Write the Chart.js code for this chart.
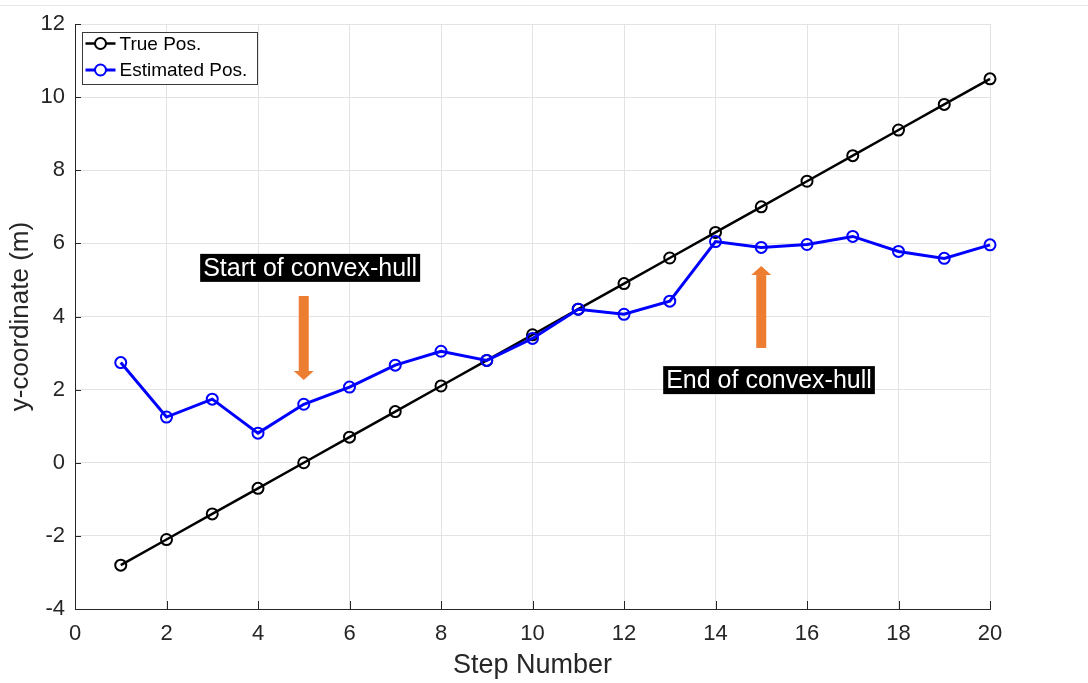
<!DOCTYPE html>
<html>
<head>
<meta charset="utf-8">
<script src="https://cdn.jsdelivr.net/npm/chart.js@4.4.1/dist/chart.umd.min.js"></script>
<style>
    html, body { margin: 0; padding: 0; background: #ffffff; }
    #wrap { width: 1088px; height: 683px; position: relative; }
</style>
</head>
<body>
<div id="wrap"><canvas id="trajetoria"></canvas></div>
<script>
const passos = [1, 2, 3, 4, 5, 6, 7, 8, 9, 10, 11, 12, 13, 14, 15, 16, 17, 18, 19, 20];
const posReal = [-2.8, -2.1, -1.4, -0.7, 0, 0.7, 1.4, 2.1, 2.8, 3.5, 4.2, 4.9, 5.6, 6.3, 7.0, 7.7, 8.4, 9.1, 9.8, 10.5];
const posEstimada = [2.74, 1.25, 1.74, 0.81, 1.60, 2.07, 2.67, 3.05, 2.80, 3.40, 4.20, 4.06, 4.42, 6.05, 5.89, 5.97, 6.19, 5.78, 5.59, 5.96];
const ticksX = [0, 2, 4, 6, 8, 10, 12, 14, 16, 18, 20];
const ticksY = [-4, -2, 0, 2, 4, 6, 8, 10, 12];

const FONTE = "'Liberation Sans', Arial, Helvetica, sans-serif";
const COR_EIXO = "#262626";
const LARANJA = "#ed7d31";

// caixas de texto e setas, em coordenadas dos dados
const anotacoes = [
    { texto: "Start of convex-hull", tx: 5.14, ty: 5.33, sx: 5, de: 4.56, ate: 2.26 },
    { texto: "End of convex-hull", tx: 15.17, ty: 2.26, sx: 15, de: 3.14, ate: 5.38 }
];

// linha cinza fina no topo da janela
const fundoPlugin = {
    id: "fundo",
    beforeDraw(chart) {
        const { ctx, width } = chart;
        ctx.save();
        ctx.strokeStyle = "#e6e6e6";
        ctx.lineWidth = 1;
        ctx.beginPath();
        ctx.moveTo(0, 5.5);
        ctx.lineTo(width, 5.5);
        ctx.stroke();
        ctx.restore();
    }
};

// marcas de escala para dentro, estilo MATLAB
const ticksInternosPlugin = {
    id: "ticksInternos",
    beforeDatasetsDraw(chart) {
        const { ctx, chartArea, scales } = chart;
        ctx.save();
        ctx.strokeStyle = COR_EIXO;
        ctx.lineWidth = 1;
        ctx.beginPath();
        scales.x.ticks.forEach(t => {
            const px = Math.round(scales.x.getPixelForValue(t.value)) + 0.5;
            ctx.moveTo(px, chartArea.bottom);
            ctx.lineTo(px, chartArea.bottom - 8);
        });
        scales.y.ticks.forEach(t => {
            const py = Math.round(scales.y.getPixelForValue(t.value)) + 0.5;
            ctx.moveTo(chartArea.left, py);
            ctx.lineTo(chartArea.left + 6, py);
        });
        ctx.stroke();
        ctx.restore();
    }
};

const anotacoesPlugin = {
    id: "anotacoes",
    afterDatasetsDraw(chart) {
        const { ctx, scales } = chart;
        const x = scales.x, y = scales.y;

        ctx.save();
        anotacoes.forEach(a => {
            // seta
            const px = x.getPixelForValue(a.sx);
            const y0 = y.getPixelForValue(a.de);
            const y1 = y.getPixelForValue(a.ate);
            const dir = y1 > y0 ? 1 : -1;
            const cabeca = 9;
            ctx.fillStyle = LARANJA;
            ctx.fillRect(px - 5, Math.min(y0, y1 - dir * cabeca), 10, Math.abs(y1 - dir * cabeca - y0));
            ctx.beginPath();
            ctx.moveTo(px - 10, y1 - dir * cabeca);
            ctx.lineTo(px + 10, y1 - dir * cabeca);
            ctx.lineTo(px, y1);
            ctx.closePath();
            ctx.fill();

            // texto em caixa preta
            ctx.font = `25px ${FONTE}`;
            const w = ctx.measureText(a.texto).width;
            const cx = x.getPixelForValue(a.tx);
            const cy = y.getPixelForValue(a.ty);
            ctx.fillStyle = "#000000";
            ctx.fillRect(cx - w / 2 - 3, cy - 14, w + 6, 28);
            ctx.fillStyle = "#ffffff";
            ctx.textAlign = "center";
            ctx.textBaseline = "middle";
            ctx.fillText(a.texto, cx, cy + 1);
        });
        ctx.restore();
    }
};

// legenda dentro da area do grafico, canto superior esquerdo
const legendaPlugin = {
    id: "legendaInterna",
    afterDraw(chart) {
        const { ctx, chartArea } = chart;
        const bx = chartArea.left + 7.5;
        const by = chartArea.top + 8.5;
        ctx.save();
        ctx.fillStyle = "#ffffff";
        ctx.fillRect(bx, by, 175, 52);
        ctx.strokeStyle = "#3a3a3a";
        ctx.lineWidth = 1;
        ctx.strokeRect(bx, by, 175, 52);

        ctx.font = `19px ${FONTE}`;
        ctx.textBaseline = "middle";
        chart.data.datasets.forEach((ds, i) => {
            const ly = by + 11 + i * 26.5;
            ctx.strokeStyle = ds.borderColor;
            ctx.lineWidth = ds.borderWidth;
            ctx.beginPath();
            ctx.moveTo(bx + 3, ly);
            ctx.lineTo(bx + 33, ly);
            ctx.stroke();
            ctx.lineWidth = ds.pointBorderWidth;
            ctx.fillStyle = "#ffffff";
            ctx.beginPath();
            ctx.arc(bx + 18, ly, ds.pointRadius, 0, Math.PI * 2);
            ctx.fill();
            ctx.stroke();
            ctx.fillStyle = "#000000";
            ctx.fillText(ds.label, bx + 37, ly + 1);
        });
        ctx.restore();
    }
};

const ctx = document.getElementById("trajetoria").getContext("2d");

new Chart(ctx, {
    type: "line",
    data: {
        datasets: [
            {
                label: "True Pos.",
                data: passos.map((p, i) => ({ x: p, y: posReal[i] })),
                borderColor: "#000000",
                borderWidth: 2.5,
                pointRadius: 5.5,
                pointBorderWidth: 2,
                pointBackgroundColor: "transparent",
                pointBorderColor: "#000000",
                order: 2,
                clip: 10
            },
            {
                label: "Estimated Pos.",
                data: passos.map((p, i) => ({ x: p, y: posEstimada[i] })),
                borderColor: "#0000ff",
                borderWidth: 3,
                pointRadius: 5.5,
                pointBorderWidth: 2,
                pointBackgroundColor: "transparent",
                pointBorderColor: "#0000ff",
                order: 1,
                clip: 10
            }
        ]
    },
    plugins: [fundoPlugin, ticksInternosPlugin, anotacoesPlugin, legendaPlugin],
    options: {
        responsive: true,
        maintainAspectRatio: false,
        animation: false,
        layout: {
            padding: { top: 24, right: 98, bottom: 0, left: 0 }
        },
        plugins: {
            legend: { display: false },
            tooltip: { enabled: false }
        },
        scales: {
            x: {
                type: "linear",
                min: 0,
                max: 20,
                afterBuildTicks: escala => { escala.ticks = ticksX.map(v => ({ value: v })); },
                afterFit: escala => { escala.height = 74; },
                grid: { color: "#e3e3e3", lineWidth: 1, drawTicks: false },
                border: { display: true, color: COR_EIXO, width: 1 },
                ticks: {
                    color: COR_EIXO,
                    padding: 12,
                    maxRotation: 0,
                    font: { family: FONTE, size: 22 }
                },
                title: {
                    display: true,
                    text: "Step Number",
                    color: COR_EIXO,
                    padding: { top: 0, bottom: 1 },
                    font: { family: FONTE, size: 27 }
                }
            },
            y: {
                type: "linear",
                min: -4,
                max: 12,
                afterBuildTicks: escala => { escala.ticks = ticksY.map(v => ({ value: v })); },
                afterFit: escala => { escala.width = 75; },
                grid: { color: "#e3e3e3", lineWidth: 1, drawTicks: false },
                border: { display: true, color: COR_EIXO, width: 1 },
                ticks: {
                    color: COR_EIXO,
                    padding: 10,
                    font: { family: FONTE, size: 22 }
                },
                title: {
                    display: true,
                    text: "y-coordinate (m)",
                    color: COR_EIXO,
                    padding: { top: 5, bottom: 0 },
                    font: { family: FONTE, size: 26 }
                }
            }
        }
    }
});
</script>
</body>
</html>
